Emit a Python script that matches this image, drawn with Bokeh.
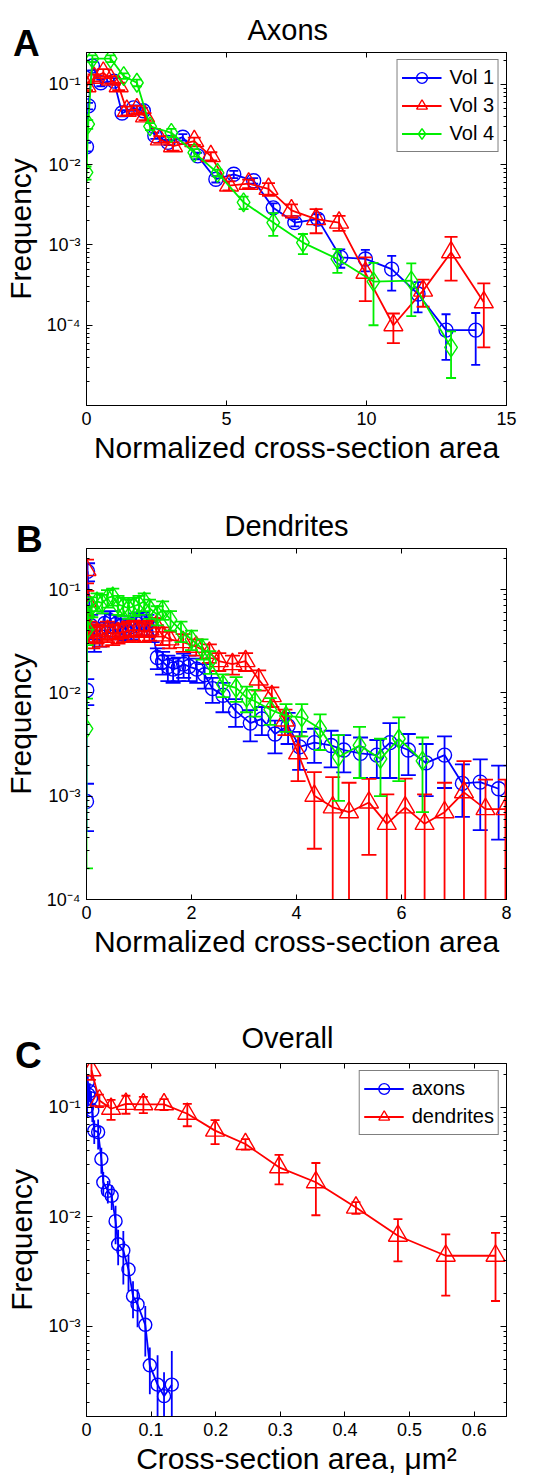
import numpy as np
from bokeh.plotting import figure
from bokeh.layouts import column
from bokeh.models import (ColumnDataSource, FixedTicker, Legend, LegendItem, Div,
                          Range1d, LogAxis, LinearAxis, CustomJSTickFormatter)
from bokeh.embed import file_html
from bokeh.resources import INLINE

# ---------------- data ----------------
# Panel A: Axons (normalized cross-section area)
a1_x = [0.0, 0.07, 0.21, 0.51, 0.98, 1.27, 1.68, 2.03, 2.44, 2.91, 3.44, 3.97, 4.62, 5.26, 5.97, 6.67, 7.44, 8.26, 9.08, 9.96, 10.9, 11.84, 12.84, 13.9]
a1_y = [0.0167, 0.054, 0.17, 0.105, 0.11, 0.044, 0.051, 0.047, 0.023, 0.019, 0.022, 0.0129, 0.0066, 0.0076, 0.0063, 0.0029, 0.0019, 0.0021, 0.0007, 0.00067, 0.0005, 0.000245, 8.7e-5, 8.7e-5]
a1_e = [0.002, 0.005, 0.02, 0.01, 0.01, 0.004, 0.004, 0.004, 0.002, 0.0015, 0.002, 0.0012, 0.0006, 0.0008, 0.0005, 0.0004, 0.0002, 0.0003, 0.00018, 0.0002, 0.00023, 0.0001, 5e-5, 5.5e-5]

a3_x = [0.0, 0.27, 0.6, 0.87, 1.15, 1.44, 1.8, 2.09, 2.62, 3.09, 3.85, 4.44, 5.09, 5.79, 6.5, 7.32, 8.2, 9.02, 9.96, 10.96, 12.02, 13.02, 14.19]
a3_y = [0.095, 0.121, 0.14, 0.115, 0.095, 0.047, 0.049, 0.04, 0.0207, 0.017, 0.0197, 0.0128, 0.0055, 0.0058, 0.005, 0.0027, 0.0021, 0.0019, 0.00045, 0.0001, 0.00027, 0.00081, 0.000193]
a3_e = [0.01, 0.012, 0.015, 0.012, 0.01, 0.006, 0.005, 0.004, 0.002, 0.002, 0.002, 0.0015, 0.0007, 0.0007, 0.0009, 0.0005, 0.0007, 0.0004, 0.00025, 4e-5, 0.0001, 0.00045, 0.00014]

a4_x = [0.0, 0.06, 0.21, 0.86, 1.33, 1.8, 2.27, 3.03, 3.85, 4.68, 5.61, 6.67, 7.73, 8.96, 10.25, 11.6, 13.02]
a4_y = [0.008, 0.032, 0.21, 0.21, 0.127, 0.105, 0.03, 0.025, 0.0141, 0.0079, 0.0034, 0.0019, 0.00107, 0.00067, 0.00035, 0.00036, 5.3e-5]
a4_e = [0.0015, 0.004, 0.02, 0.02, 0.01, 0.01, 0.003, 0.003, 0.0015, 0.0008, 0.0006, 0.0006, 0.0003, 0.00022, 0.00025, 0.00023, 3.1e-5]

# Panel B: Dendrites (normalized cross-section area)
b1_x = [0.0, 0.005, 0.02, 0.08, 0.15, 0.25, 0.35, 0.45, 0.55, 0.65, 0.75, 0.85, 0.95, 1.05, 1.15, 1.25, 1.35,
        1.45, 1.55, 1.65, 1.75, 1.85, 1.95, 2.1, 2.25, 2.4, 2.6, 2.84, 3.12, 3.34, 3.59, 3.84, 4.06,
        4.34, 4.66, 4.9, 5.22, 5.53, 5.78, 6.13, 6.47, 6.82, 7.16, 7.5, 7.85]
b1_y = [0.00089, 0.0106, 0.15, 0.045, 0.035, 0.038, 0.047, 0.05, 0.046, 0.044, 0.042, 0.044, 0.047, 0.048, 0.046, 0.042, 0.022,
        0.02, 0.018, 0.017, 0.0175, 0.019, 0.018, 0.017, 0.015, 0.011, 0.0095, 0.0067, 0.0051, 0.0056, 0.004, 0.0048, 0.003,
        0.0033, 0.0031, 0.0028, 0.0026, 0.0025, 0.0033, 0.0028, 0.0021, 0.0025, 0.00133, 0.00137, 0.00118]
b1_e = [0.00043, 0.003, 0.03, 0.012, 0.01, 0.01, 0.012, 0.012, 0.011, 0.011, 0.01, 0.011, 0.012, 0.012, 0.011, 0.011, 0.005,
        0.005, 0.005, 0.0045, 0.0045, 0.005, 0.005, 0.0045, 0.004, 0.003, 0.003, 0.002, 0.0017, 0.0017, 0.0014, 0.0016, 0.0012,
        0.0012, 0.0012, 0.0011, 0.0011, 0.001, 0.0018, 0.0012, 0.0011, 0.0013, 0.0007, 0.0009, 0.0008]

b3_x = [0.0, 0.005, 0.01, 0.05, 0.12, 0.2, 0.3, 0.4, 0.5, 0.6, 0.7, 0.8, 0.9, 1.0, 1.1, 1.2,
        1.33, 1.45, 1.58, 1.84, 2.09, 2.34, 2.52, 2.78, 3.03, 3.28, 3.53, 3.78, 4.03, 4.34, 4.69,
        5.0, 5.38, 5.72, 6.07, 6.44, 6.82, 7.19, 7.6, 7.98]
b3_y = [0.155, 0.077, 0.044, 0.04, 0.035, 0.038, 0.036, 0.04, 0.037, 0.038, 0.039, 0.04, 0.041, 0.04, 0.039, 0.041,
        0.044, 0.036, 0.033, 0.031, 0.028, 0.0245, 0.0203, 0.019, 0.0203, 0.0135, 0.0093, 0.0054, 0.0026, 0.00101, 0.00078,
        0.0007, 0.00087, 0.00054, 0.00078, 0.00054, 0.0007, 0.00109, 0.00075, 0.00075]
b3_e = [0.04, 0.02, 0.01, 0.009, 0.008, 0.008, 0.008, 0.009, 0.008, 0.008, 0.008, 0.009, 0.009, 0.009, 0.008, 0.009,
        0.009, 0.007, 0.006, 0.006, 0.005, 0.005, 0.004, 0.004, 0.004, 0.003, 0.002, 0.0015, 0.0012, 0.0007, 0.00075,
        0.00065, 0.0006, 0.0005, 0.0007, 0.0005, 0.00065, 0.0011, 0.0007, 0.0007]

b4_x = [0.0, 0.01, 0.03, 0.1, 0.2, 0.3, 0.4, 0.5, 0.6, 0.7, 0.8, 0.9, 1.0, 1.1, 1.2,
        1.35, 1.45, 1.6, 1.8, 2.0, 2.2, 2.35, 2.6, 2.85, 3.05, 3.21, 3.5, 3.8, 4.1, 4.45,
        4.8, 5.2, 5.6, 5.95, 6.4]
b4_y = [0.0045, 0.041, 0.055, 0.069, 0.077, 0.074, 0.083, 0.086, 0.072, 0.069, 0.066, 0.069, 0.072, 0.077, 0.066,
        0.057, 0.064, 0.051, 0.04, 0.033, 0.027, 0.0203, 0.0121, 0.0112, 0.009, 0.0083, 0.0069, 0.006, 0.0058, 0.0045,
        0.0024, 0.0031, 0.0023, 0.0036, 0.0022]
b4_e = [0.0043, 0.012, 0.014, 0.015, 0.015, 0.015, 0.016, 0.016, 0.015, 0.014, 0.014, 0.014, 0.015, 0.015, 0.014,
        0.012, 0.013, 0.011, 0.009, 0.007, 0.006, 0.005, 0.003, 0.003, 0.0025, 0.0024, 0.002, 0.0018, 0.002, 0.0017,
        0.0015, 0.0016, 0.0013, 0.0022, 0.0015]

# Panel C: Overall (cross-section area, um^2)
ca_x = [0.001, 0.002, 0.003, 0.005, 0.007, 0.009, 0.012, 0.018, 0.023, 0.026, 0.033, 0.039, 0.045, 0.049, 0.057, 0.065, 0.072, 0.079, 0.091, 0.098, 0.11, 0.12, 0.132]
ca_y = [0.1, 0.17, 0.13, 0.14, 0.12, 0.093, 0.061, 0.059, 0.0336, 0.0206, 0.0172, 0.0155, 0.0091, 0.0056, 0.0049, 0.0033, 0.00188, 0.00158, 0.00103, 0.00044, 0.000293, 0.00023, 0.000293]
ca_e = [0.02, 0.03, 0.025, 0.025, 0.02, 0.02, 0.015, 0.018, 0.009, 0.005, 0.004, 0.004, 0.0035, 0.002, 0.0025, 0.0012, 0.0007, 0.0006, 0.0005, 0.0002, 0.00025, 0.00015, 0.0003]

cd_x = [0.0077, 0.02, 0.038, 0.061, 0.088, 0.12, 0.156, 0.199, 0.246, 0.298, 0.355, 0.417, 0.482, 0.556, 0.633]
cd_y = [0.217, 0.115, 0.0966, 0.107, 0.106, 0.106, 0.0869, 0.061, 0.046, 0.0282, 0.0206, 0.0121, 0.0067, 0.0044, 0.0044]
cd_e = [0.04, 0.015, 0.02, 0.02, 0.018, 0.012, 0.02, 0.015, 0.005, 0.0085, 0.0103, 0.0015, 0.0028, 0.0025, 0.0027]

# ticks
a_xticks = [0, 5, 10, 15]
b_xticks = [0, 2, 4, 6, 8]
c_xticks = [0, 0.1, 0.2, 0.3, 0.4, 0.5, 0.6]
y_major = [1e-4, 1e-3, 1e-2, 1e-1]
c_y_major = [1e-3, 1e-2, 1e-1]
y_minor = [m * 10.0 ** e for e in range(-5, 0) for m in range(2, 10)]

BLUE, RED, GREEN = "#0000ff", "#ff0000", "#00ee00"
FONT = "Liberation Sans"

SUP_CODE = """
const m = {'-':'\\u207b','0':'\\u2070','1':'\\u00b9','2':'\\u00b2','3':'\\u00b3','4':'\\u2074','5':'\\u2075','6':'\\u2076'};
const e = Math.round(Math.log10(tick));
return '10' + String(e).split('').map(c => m[c]).join('');
"""


def style_axis(ax, tick_in, minor_in):
    ax.axis_line_color = "black"
    ax.major_tick_line_color = "black"
    ax.major_tick_in = tick_in
    ax.major_tick_out = 0
    ax.minor_tick_in = minor_in
    ax.minor_tick_out = 0
    if minor_in == 0:
        ax.minor_tick_line_color = None
    else:
        ax.minor_tick_line_color = "black"
    ax.major_label_text_font = FONT
    ax.major_label_text_font_size = "18px"
    ax.major_label_text_color = "black"


def make_panel(height, top, bottom, right, x_end, xticks, y_start, ymajor, title, t_off, t_stand, xlabel):
    p = figure(width=549, height=height, x_range=Range1d(0, x_end), y_range=Range1d(y_start, 0.25),
               y_axis_type="log", output_backend="svg", toolbar_location=None,
               min_border_left=82, min_border_right=right, min_border_top=top, min_border_bottom=bottom)
    p.grid.visible = False
    p.outline_line_color = "black"
    p.background_fill_color = "white"
    p.border_fill_color = "white"

    p.title.text = title
    p.title.align = "left"
    p.title.offset = t_off
    p.title.standoff = t_stand
    p.title.text_font = FONT
    p.title.text_font_size = "29px"
    p.title.text_font_style = "normal"
    p.title.text_color = "black"

    xa = p.xaxis[0]
    xa.ticker = FixedTicker(ticks=xticks)
    style_axis(xa, 5, 0)
    xa.major_label_standoff = 6
    xa.axis_label = xlabel
    xa.axis_label_text_font = FONT
    xa.axis_label_text_font_size = "30px"
    xa.axis_label_text_font_style = "normal"
    xa.axis_label_text_color = "black"
    xa.axis_label_standoff = 3

    ya = p.yaxis[0]
    ya.ticker = FixedTicker(ticks=ymajor, minor_ticks=y_minor)
    ya.formatter = CustomJSTickFormatter(code=SUP_CODE)
    style_axis(ya, 6, 3)
    ya.major_label_standoff = 6
    ya.axis_label = "Frequency"
    ya.axis_label_text_font = FONT
    ya.axis_label_text_font_size = "30px"
    ya.axis_label_text_font_style = "normal"
    ya.axis_label_text_color = "black"
    ya.axis_label_standoff = 7

    top_ax = LinearAxis(ticker=FixedTicker(ticks=xticks), formatter=CustomJSTickFormatter(code="return '';"))
    style_axis(top_ax, 5, 0)
    top_ax.major_label_standoff = 0
    p.add_layout(top_ax, "above")
    right_ax = LogAxis(ticker=FixedTicker(ticks=ymajor, minor_ticks=y_minor),
                       formatter=CustomJSTickFormatter(code="return '';"))
    style_axis(right_ax, 6, 3)
    right_ax.major_label_standoff = 0
    p.add_layout(right_ax, "right")
    return p


def series(p, x, y, err, color, marker, size, cap):
    x = np.asarray(x, dtype=float)
    y = np.asarray(y, dtype=float)
    e = np.asarray(err, dtype=float)
    lo = y - e
    hi = y + e
    src = ColumnDataSource(dict(x=x, y=y, hi=hi,
                                lo=np.where(lo > 0, lo, 1e-9),
                                locap=np.where(lo > 0, lo, np.nan)))
    p.segment(x0="x", y0="lo", x1="x", y1="hi", source=src, line_color=color, line_width=1.8)
    if cap:
        p.scatter(x="x", y="hi", source=src, marker="dash", size=cap, line_color=color, line_width=1.8)
        p.scatter(x="x", y="locap", source=src, marker="dash", size=cap, line_color=color, line_width=1.8)
    ln = p.line(x="x", y="y", source=src, line_color=color, line_width=1.8)
    sc = p.scatter(x="x", y="y", source=src, marker=marker, size=size, fill_color=None,
                   line_color=color, line_width=1.4)
    return [ln, sc]


def add_legend(p, items):
    lg = Legend(items=[LegendItem(label=t, renderers=r) for t, r in items], location="top_right")
    lg.margin = 7
    lg.padding = 4
    lg.spacing = 1
    lg.glyph_width = 40
    lg.glyph_height = 27
    lg.label_standoff = 8
    lg.label_text_font = FONT
    lg.label_text_font_size = "20px"
    lg.label_text_color = "black"
    lg.border_line_color = "black"
    lg.border_line_width = 1
    lg.background_fill_alpha = 1.0
    p.add_layout(lg)


def panel_letter(text, left, top):
    return Div(text=text, width=32, height=38,
               styles={"position": "absolute", "left": f"{left}px", "top": f"{top}px",
                       "font-family": FONT, "font-weight": "bold", "font-size": "37px",
                       "line-height": "37px", "color": "black", "z-index": "10"})


# Panel A
pA = make_panel(480, 52, 75, 41, 15, a_xticks, 1e-5, y_major, "Axons", 161, 13,
                "Normalized cross-section area")
rA1 = series(pA, a1_x, a1_y, a1_e, BLUE, "circle", 14, 9)
rA3 = series(pA, a3_x, a3_y, a3_e, RED, "triangle", 19, 13)
rA4 = series(pA, a4_x, a4_y, a4_e, GREEN, "diamond", 19, 10)
add_legend(pA, [("Vol 1", rA1), ("Vol 3", rA3), ("Vol 4", rA4)])

# Panel B
pB = make_panel(480, 68, 59, 41, 8, b_xticks, 1e-4, y_major, "Dendrites", 138, 14,
                "Normalized cross-section area")
series(pB, b1_x, b1_y, b1_e, BLUE, "circle", 14, 15)
series(pB, b3_x, b3_y, b3_e, RED, "triangle", 19, 15)
series(pB, b4_x, b4_y, b4_e, GREEN, "diamond", 19, 13)

# Panel C
pC = make_panel(519, 103, 63, 43, 0.65, c_xticks, 1.5e-4, c_y_major, "Overall", 155, 19,
                "Cross-section area, \u03bcm\u00b2")
rCa = series(pC, ca_x, ca_y, ca_e, BLUE, "circle", 13, 0)
rCd = series(pC, cd_x, cd_y, cd_e, RED, "triangle", 19, 9)
add_legend(pC, [("axons", rCa), ("dendrites", rCd)])

layout = column(pA, pB, pC,
                panel_letter("A", 8, 20), panel_letter("B", 11, 516), panel_letter("C", 10, 1032),
                spacing=0)
open("out.html", "w").write(file_html(layout, INLINE))
